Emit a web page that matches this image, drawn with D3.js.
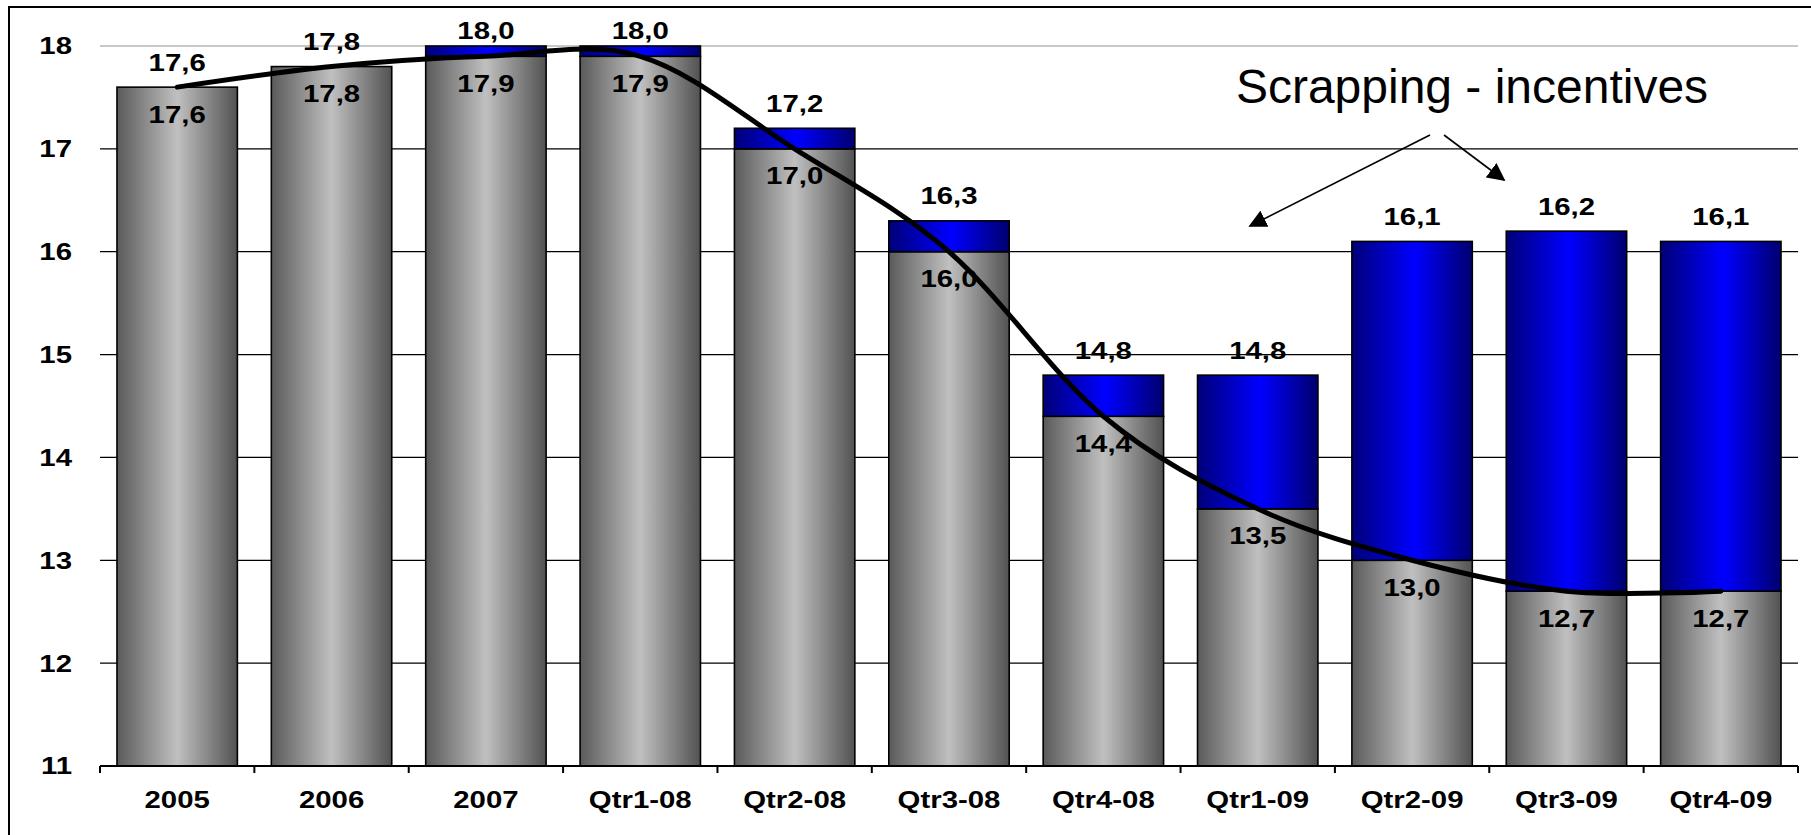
<!DOCTYPE html>
<html>
<head>
<meta charset="utf-8">
<script src="https://cdn.jsdelivr.net/npm/d3@7"></script>
<style>
  html, body { margin: 0; padding: 0; background: #fff; }
  svg { display: block; }
  text { font-family: "Liberation Sans", Arial, sans-serif; fill: #000; }
</style>
</head>
<body>
<svg id="chart" width="1811" height="835"></svg>
<script>
// Periods on the x axis
const categories = ["2005", "2006", "2007", "Qtr1-08", "Qtr2-08", "Qtr3-08",
                    "Qtr4-08", "Qtr1-09", "Qtr2-09", "Qtr3-09", "Qtr4-09"];
// Underlying level (grey part of each bar)
const baseValues = [17.6, 17.8, 17.9, 17.9, 17.0, 16.0, 14.4, 13.5, 13.0, 12.7, 12.7];
// Level including scrapping incentives (top of the blue part)
const totalValues = [17.6, 17.8, 18.0, 18.0, 17.2, 16.3, 14.8, 14.8, 16.1, 16.2, 16.1];
// Y axis ticks
const yTicks = [11, 12, 13, 14, 15, 16, 17, 18];
const annotation = "Scrapping - incentives";

const W = 1811, H = 835;
const svg = d3.select("#chart");
const fmt = v => v.toFixed(1).replace(".", ",");
const SX = 1.25; // labels are drawn a little wide
const FS = 23.5;

const x = d3.scaleBand().domain(categories).range([100, 1798])
  .paddingInner(0.22).paddingOuter(0.11);
const y = d3.scaleLinear().domain([11, 18]).range([766, 46]);

// gradients
const defs = svg.append("defs");
function hGrad(id, stops) {
  const g = defs.append("linearGradient").attr("id", id)
    .attr("x1", "0%").attr("x2", "100%").attr("y1", "0%").attr("y2", "0%");
  stops.forEach(([o, c]) => g.append("stop").attr("offset", o).attr("stop-color", c));
}
hGrad("greyGrad", [["0%", "#5a5a5a"], ["50%", "#c0c0c0"], ["100%", "#525252"]]);
hGrad("blueGrad", [["0%", "#000078"], ["52%", "#0000ff"], ["100%", "#00006e"]]);

// outer frame
svg.append("rect").attr("x", 9).attr("y", 7).attr("width", W).attr("height", H)
  .attr("fill", "none").attr("stroke", "#000").attr("stroke-width", 2);

// gridlines
svg.append("g").selectAll("line").data(yTicks.filter(t => t > 11)).join("line")
  .attr("x1", 100).attr("x2", 1798)
  .attr("y1", d => y(d)).attr("y2", d => y(d))
  .attr("stroke", d => d === 18 ? "#c8c8c8" : "#000")
  .attr("stroke-width", d => d === 18 ? 2 : 1.3);

// y labels
svg.append("g").selectAll("text").data(yTicks).join("text")
  .attr("transform", d => `translate(72,${y(d)}) scale(${SX},1)`)
  .attr("text-anchor", "end").attr("dy", "0.36em")
  .attr("font-size", FS).attr("font-weight", "bold")
  .text(d => d);

// bars
const bars = svg.append("g");
bars.selectAll("rect.base").data(categories).join("rect")
  .attr("class", "base")
  .attr("x", d => x(d)).attr("width", x.bandwidth())
  .attr("y", (d, i) => y(baseValues[i]))
  .attr("height", (d, i) => y(11) - y(baseValues[i]))
  .attr("fill", "url(#greyGrad)").attr("stroke", "#000").attr("stroke-width", 1.6);
bars.selectAll("rect.extra").data(categories.filter((d, i) => totalValues[i] > baseValues[i])).join("rect")
  .attr("class", "extra")
  .attr("x", d => x(d)).attr("width", x.bandwidth())
  .attr("y", d => y(totalValues[categories.indexOf(d)]))
  .attr("height", d => { const i = categories.indexOf(d); return y(baseValues[i]) - y(totalValues[i]); })
  .attr("fill", "url(#blueGrad)").attr("stroke", "#000").attr("stroke-width", 1.6);

// x axis line and ticks
svg.append("line").attr("x1", 100).attr("x2", 1798).attr("y1", y(11)).attr("y2", y(11))
  .attr("stroke", "#000").attr("stroke-width", 2.2);
svg.append("g").selectAll("line").data(d3.range(categories.length + 1)).join("line")
  .attr("x1", i => 100 + i * x.step()).attr("x2", i => 100 + i * x.step())
  .attr("y1", y(11)).attr("y2", y(11) + 7)
  .attr("stroke", "#000").attr("stroke-width", 2);

// x labels
svg.append("g").selectAll("text").data(categories).join("text")
  .attr("transform", d => `translate(${x(d) + x.bandwidth() / 2},800) scale(${SX},1)`)
  .attr("text-anchor", "middle").attr("dy", "0.36em")
  .attr("font-size", FS).attr("font-weight", "bold")
  .text(d => d);

// trend line through the underlying level
const line = d3.line()
  .x((d, i) => x(categories[i]) + x.bandwidth() / 2)
  .y(d => y(d))
  .curve(d3.curveCardinal.tension(0));
svg.append("path").datum(baseValues).attr("d", line)
  .attr("fill", "none").attr("stroke", "#000").attr("stroke-width", 5)
  .attr("stroke-linecap", "round");

// value labels: total above, base inside
const labels = svg.append("g").attr("font-size", FS).attr("font-weight", "bold");
labels.selectAll("text.total").data(totalValues).join("text")
  .attr("class", "total")
  .attr("transform", (d, i) => `translate(${x(categories[i]) + x.bandwidth() / 2},${Math.max(y(d) - 25, 31)}) scale(${SX},1)`)
  .attr("text-anchor", "middle").attr("dy", "0.36em")
  .text(d => fmt(d));
labels.selectAll("text.base").data(baseValues).join("text")
  .attr("class", "base")
  .attr("transform", (d, i) => `translate(${x(categories[i]) + x.bandwidth() / 2},${y(d) + 27}) scale(${SX},1)`)
  .attr("text-anchor", "middle").attr("dy", "0.36em")
  .text(d => fmt(d));

// annotation with arrows
defs.append("marker").attr("id", "arrow").attr("viewBox", "0 0 10 10")
  .attr("refX", 9).attr("refY", 5).attr("markerWidth", 18).attr("markerHeight", 18)
  .attr("markerUnits", "userSpaceOnUse").attr("orient", "auto")
  .append("path").attr("d", "M0,0 L10,5 L0,10 Z").attr("fill", "#000");
svg.append("text").attr("x", 1472).attr("y", 103).attr("text-anchor", "middle")
  .attr("font-size", 48).text(annotation);
svg.append("line").attr("x1", 1430).attr("y1", 135).attr("x2", 1250).attr("y2", 226)
  .attr("stroke", "#000").attr("stroke-width", 1.6).attr("marker-end", "url(#arrow)");
svg.append("line").attr("x1", 1444).attr("y1", 135).attr("x2", 1504).attr("y2", 180)
  .attr("stroke", "#000").attr("stroke-width", 1.6).attr("marker-end", "url(#arrow)");
</script>
</body>
</html>
